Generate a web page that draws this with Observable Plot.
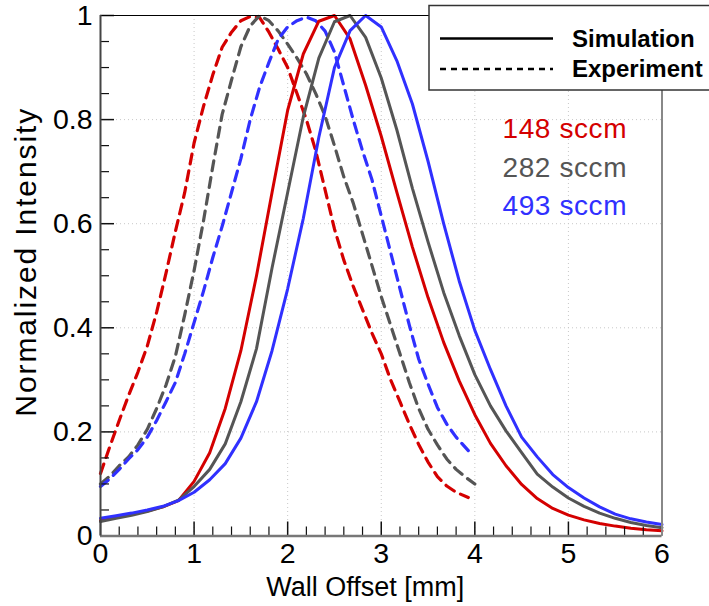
<!DOCTYPE html>
<html><head><meta charset="utf-8">
<script src="https://cdn.jsdelivr.net/npm/d3@7"></script>
<script src="https://cdn.jsdelivr.net/npm/@observablehq/plot@0.6"></script>
<style>body{margin:0;background:#fff}#chart{width:709px;height:606px;overflow:hidden}</style>
</head><body><div id="chart"></div>
<script>
// ---------- data ----------
const flows = ["148 sccm", "282 sccm", "493 sccm"];
const flowColors = ["#d40000", "#555555", "#3030ff"];

const simX = [0, 0.167, 0.333, 0.5, 0.667, 0.833, 1.0, 1.167, 1.333, 1.5, 1.667, 1.833,
  2.0, 2.167, 2.333, 2.5, 2.667, 2.833, 3.0, 3.167, 3.333, 3.5, 3.667, 3.833,
  4.0, 4.167, 4.333, 4.5, 4.667, 4.833, 5.0, 5.167, 5.333, 5.5, 5.667, 5.833, 6.0];
const sim148 = [0.030, 0.036, 0.042, 0.048, 0.056, 0.068, 0.105, 0.160, 0.245, 0.356, 0.50, 0.66,
  0.818, 0.926, 0.989, 1.0, 0.955, 0.866, 0.768, 0.66, 0.555, 0.458, 0.372, 0.298,
  0.233, 0.178, 0.135, 0.099, 0.072, 0.053, 0.040, 0.031, 0.024, 0.019, 0.015, 0.012, 0.010];
const sim282 = [0.028, 0.034, 0.040, 0.047, 0.056, 0.069, 0.095, 0.128, 0.177, 0.258, 0.36, 0.515,
  0.66, 0.805, 0.918, 0.988, 1.0, 0.958, 0.88, 0.78, 0.668, 0.565, 0.468, 0.385,
  0.31, 0.25, 0.202, 0.160, 0.119, 0.094, 0.073, 0.057, 0.044, 0.034, 0.026, 0.020, 0.016];
const sim493 = [0.034, 0.039, 0.044, 0.050, 0.057, 0.068, 0.084, 0.108, 0.139, 0.188, 0.258, 0.356,
  0.475, 0.61, 0.766, 0.90, 0.971, 1.0, 0.978, 0.913, 0.83, 0.72, 0.60, 0.49,
  0.395, 0.32, 0.25, 0.19, 0.152, 0.118, 0.093, 0.073, 0.056, 0.042, 0.033, 0.027, 0.022];

const expX148 = [0, 0.1, 0.2, 0.3, 0.4, 0.5, 0.6, 0.7, 0.8, 0.9, 1.0, 1.1, 1.2, 1.3, 1.4, 1.5, 1.6, 1.7, 1.8, 1.9,
  2.0, 2.1, 2.2, 2.3, 2.4, 2.5, 2.6, 2.7, 2.8, 2.9, 3.0, 3.1, 3.2, 3.3, 3.4, 3.5, 3.6, 3.7, 3.8, 3.93];
const exp148 = [0.12, 0.172, 0.222, 0.27, 0.315, 0.365, 0.43, 0.505, 0.585, 0.66, 0.755, 0.825, 0.886, 0.939, 0.968, 0.99, 0.998, 0.996, 0.968, 0.935,
  0.90, 0.85, 0.80, 0.74, 0.665, 0.59, 0.53, 0.48, 0.435, 0.39, 0.35, 0.30, 0.258, 0.215, 0.176, 0.142, 0.114, 0.096, 0.084, 0.074];
const expX282 = [0, 0.1, 0.2, 0.3, 0.4, 0.5, 0.6, 0.7, 0.8, 0.9, 1.0, 1.1, 1.2, 1.3, 1.4, 1.5, 1.6, 1.7, 1.8, 1.9,
  2.0, 2.1, 2.2, 2.3, 2.4, 2.5, 2.6, 2.7, 2.8, 2.9, 3.0, 3.1, 3.2, 3.3, 3.4, 3.5, 3.6, 3.7, 3.8, 3.9, 4.0];
const exp282 = [0.10, 0.115, 0.135, 0.152, 0.175, 0.205, 0.245, 0.29, 0.345, 0.425, 0.51, 0.605, 0.71, 0.81, 0.876, 0.94, 0.98, 1.0, 0.99, 0.97,
  0.945, 0.918, 0.888, 0.85, 0.807, 0.75, 0.69, 0.64, 0.58, 0.52, 0.46, 0.405, 0.35, 0.295, 0.245, 0.205, 0.175, 0.148, 0.128, 0.113, 0.10];
const expX493 = [0, 0.1, 0.2, 0.3, 0.4, 0.5, 0.6, 0.7, 0.8, 0.9, 1.0, 1.1, 1.2, 1.3, 1.4, 1.5, 1.6, 1.7, 1.8, 1.9,
  2.0, 2.1, 2.2, 2.3, 2.4, 2.5, 2.6, 2.7, 2.8, 2.9, 3.0, 3.1, 3.2, 3.3, 3.4, 3.5, 3.6, 3.7, 3.8, 3.93];
const exp493 = [0.095, 0.11, 0.128, 0.148, 0.166, 0.19, 0.222, 0.258, 0.295, 0.35, 0.41, 0.47, 0.535, 0.595, 0.66, 0.725, 0.80, 0.862, 0.91, 0.955,
  0.978, 0.99, 0.997, 0.99, 0.97, 0.93, 0.865, 0.80, 0.74, 0.685, 0.615, 0.545, 0.475, 0.405, 0.34, 0.292, 0.247, 0.215, 0.19, 0.164];

const xTicks = [0, 1, 2, 3, 4, 5, 6];
const yTicks = [0, 0.2, 0.4, 0.6, 0.8, 1];
const xLabel = "Wall Offset [mm]";
const yLabel = "Normalized Intensity";
const legendKinds = ["Simulation", "Experiment"];

// ---------- build tables ----------
function rows(xs, ys, flow) { return xs.map((x, i) => ({x, y: ys[i], flow})); }
const simRows = [...rows(simX, sim148, flows[0]), ...rows(simX, sim282, flows[1]), ...rows(simX, sim493, flows[2])];
const expRows = [...rows(expX148, exp148, flows[0]), ...rows(expX282, exp282, flows[1]), ...rows(expX493, exp493, flows[2])];

const W = 709, H = 606;
const mL = 100, mR = 47.5, mT = 15, mB = 70.5;
const plotW = W - mL - mR, plotH = H - mT - mB;
const xMinor = d3.range(0, 6.001, 0.2).map(v => +v.toFixed(1)).filter(v => !xTicks.includes(v));
const yMinor = d3.range(0, 1.001, 0.05).map(v => +v.toFixed(2)).filter(v => !yTicks.includes(v));
const lenY = px => px / plotH;        // pixels -> y data units
const lenX = px => px * 6 / plotW;    // pixels -> x data units

const font = "'Liberation Sans', Arial, Helvetica, sans-serif";
const annDy = [103, 141.5, 180];

const plot = Plot.plot({
  width: W, height: H,
  marginLeft: mL, marginRight: mR, marginTop: mT, marginBottom: mB,
  style: {fontFamily: font, background: "white", overflow: "visible"},
  x: {domain: [0, 6]},
  y: {domain: [0, 1]},
  color: {domain: flows, range: flowColors},
  marks: [
    // dotted grid
    Plot.ruleX(xTicks.slice(1, -1), {x: d => d, stroke: "#c8c8c8", strokeDasharray: "1,3"}),
    Plot.ruleY(yTicks.slice(1, -1), {y: d => d, stroke: "#c8c8c8", strokeDasharray: "1,3"}),
    // curves
    Plot.line(expRows, {x: "x", y: "y", z: "flow", stroke: "flow", strokeWidth: 3.2, strokeDasharray: "10,7", strokeLinejoin: "round"}),
    Plot.line(simRows, {x: "x", y: "y", z: "flow", stroke: "flow", strokeWidth: 3, strokeLinejoin: "round"}),
    // inward ticks
    Plot.ruleX(xTicks, {x: d => d, y1: 0, y2: lenY(14), stroke: "#111", strokeWidth: 1.5}),
    Plot.ruleX(xMinor, {x: d => d, y1: 0, y2: lenY(9), stroke: "#111", strokeWidth: 1.2}),
    Plot.ruleY(yTicks, {y: d => d, x1: 0, x2: lenX(14), stroke: "#111", strokeWidth: 1.5}),
    Plot.ruleY(yMinor, {y: d => d, x1: 0, x2: lenX(9), stroke: "#111", strokeWidth: 1.2}),
    // frame sides
    Plot.ruleY([1], {stroke: "#000", strokeWidth: 1.2}),
    Plot.ruleX([6], {stroke: "#888", strokeWidth: 2}),
    Plot.ruleY([0], {stroke: "#777", strokeWidth: 2.5}),
    Plot.ruleX([0], {stroke: "#444", strokeWidth: 2}),
    // axes labels
    Plot.axisX({ticks: xTicks, tickSize: 0, tickPadding: 7, fontSize: 28.5, tickFormat: d => String(d), fill: "#000", label: null}),
    Plot.axisY({ticks: yTicks, tickSize: 0, tickPadding: 8, fontSize: 28.5, tickFormat: d => String(d), fill: "#000", label: null}),
    Plot.text([xLabel], {text: d => d, frameAnchor: "bottom", textAnchor: "middle", lineAnchor: "middle",
      dx: -16, dy: 51, fontSize: 27, fill: "#000"}),
    Plot.text([yLabel], {text: d => d, frameAnchor: "left", textAnchor: "middle", lineAnchor: "middle",
      rotate: -90, dx: -74, dy: -14, fontSize: 30, fill: "#000", className: "ylabel"}),
    // flow annotations
    ...flows.map((f, i) => Plot.text([f], {text: d => d, fill: flowColors[i], frameAnchor: "top-left",
      textAnchor: "start", lineAnchor: "top", dx: 402, dy: annDy[i], fontSize: 28, className: "ann"}))
  ]
});

const svg = d3.select(plot);
svg.selectAll(".ylabel text").attr("letter-spacing", "1.9px");
svg.selectAll(".ann text").attr("letter-spacing", "0.6px");

// legend box
const g = svg.append("g").attr("font-family", font).attr("text-anchor", "start");
g.append("rect").attr("x", 429).attr("y", 5.5).attr("width", 320).attr("height", 84.5)
  .attr("fill", "white").attr("stroke", "#333").attr("stroke-width", 1.5);
const legendY = [38.5, 69];
legendKinds.forEach((k, i) => {
  g.append("line").attr("x1", 440).attr("x2", 553).attr("y1", legendY[i]).attr("y2", legendY[i])
    .attr("stroke", "#000").attr("stroke-width", 2.5).attr("stroke-dasharray", i ? "6,5" : null);
  g.append("text").attr("x", 572).attr("y", legendY[i]).attr("dy", "0.35em").attr("text-anchor", "start")
    .attr("font-size", 24).attr("font-weight", "bold").attr("fill", "#000").text(k);
});

document.getElementById("chart").appendChild(plot);
</script>
</body></html>
